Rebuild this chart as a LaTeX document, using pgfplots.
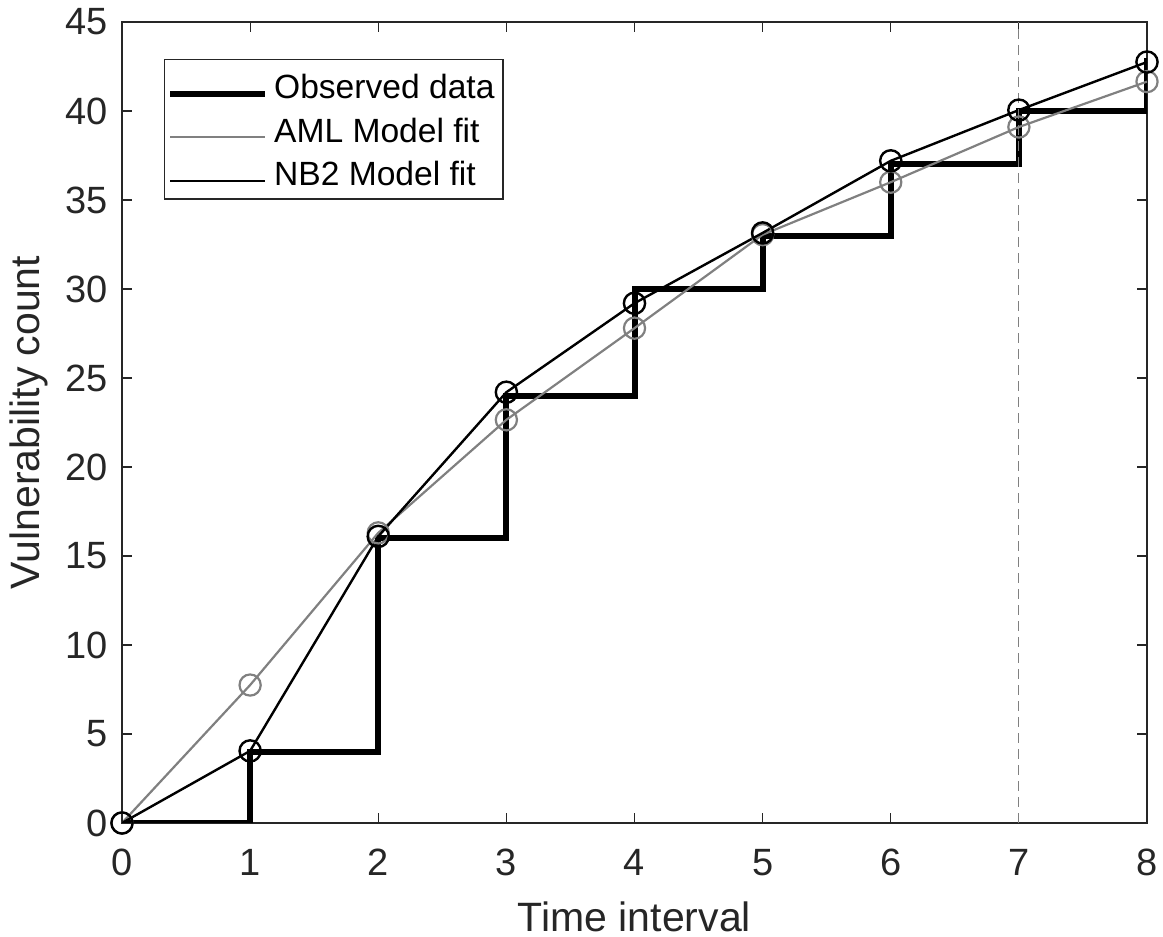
\documentclass[border=0pt]{standalone}
\usepackage{pgfplots}
\pgfplotsset{compat=1.18}
\usepackage{fontspec}
\setmainfont{Liberation Sans}
\definecolor{axgray}{gray}{0.15}
\definecolor{amlgray}{gray}{0.5}
\begin{document}
\begin{tikzpicture}
\begin{axis}[
  at={(0,0)}, anchor=south west,
  width=512.5pt, height=400.5pt, scale only axis,
  xmin=0, xmax=8, ymin=0, ymax=45,
  xtick={0,1,...,8}, ytick={0,5,...,45},
  tick align=inside, tick pos=both,
  major tick length=5pt,
  axis line style={axgray, line width=0.6pt},
  every tick/.style={axgray, line width=0.6pt},
  /pgf/number format/assume math mode=true,
  ticklabel style={font=\fontsize{19}{22}\selectfont, text=axgray, inner sep=0pt},
  xticklabel style={anchor=north, yshift=-13pt},
  yticklabel style={anchor=east, xshift=-7pt},
  xlabel={Time interval}, ylabel={Vulnerability count},
  label style={font=\fontsize{20.5}{24}\selectfont, text=axgray, inner sep=0pt},
  xlabel style={at={(axis description cs:0.5,-0.0974)}, anchor=north},
  ylabel style={at={(axis description cs:-0.072,0.5)}, anchor=south, rotate=0},
  legend style={at={(axis description cs:0.041,0.954)}, anchor=north west,
    draw=axgray, line width=0.6pt, font=\fontsize{16.8}{20}\selectfont,
    inner xsep=1.25pt, inner ysep=2.25pt, row sep=0pt,
    nodes={inner xsep=3pt, inner ysep=0pt, text height=17.5pt, text depth=4.25pt},
    cells={anchor=west}},
  legend cell align=left,
  legend image code/.code={\draw[#1] (0pt,-4.1pt) -- (47.5pt,-4.1pt);},
]
\addplot[const plot mark left, black, line width=3pt, line join=miter] coordinates {
(0,0) (1,4) (2,16) (3,24) (4,30) (5,33) (6,37) (7,40) (8,43)};
\addlegendentry{Observed data}
\addplot[amlgray, line width=1.1pt, mark=o, mark size=5.3pt, mark options={line width=1.1pt}] coordinates {
(0,0) (1,7.75) (2,16.3) (3,22.65) (4,27.8) (5,33.05) (6,36.0) (7,39.1) (8,41.65)};
\addlegendentry{AML Model fit}
\addplot[black, line width=1.2pt, mark=o, mark size=5.3pt, mark options={line width=1.2pt}] coordinates {
(0,0) (1,4.05) (2,16.1) (3,24.2) (4,29.2) (5,33.15) (6,37.2) (7,40.05) (8,42.75)};
\addlegendentry{NB2 Model fit}
\addplot[amlgray, line width=0.6pt, dash pattern=on 5pt off 3pt, forget plot] coordinates {(7,0) (7,45)};
\end{axis}
\pgfresetboundingbox
\path (-61pt,-57pt) rectangle (520.5pt,411.5pt);
\end{tikzpicture}
\end{document}
